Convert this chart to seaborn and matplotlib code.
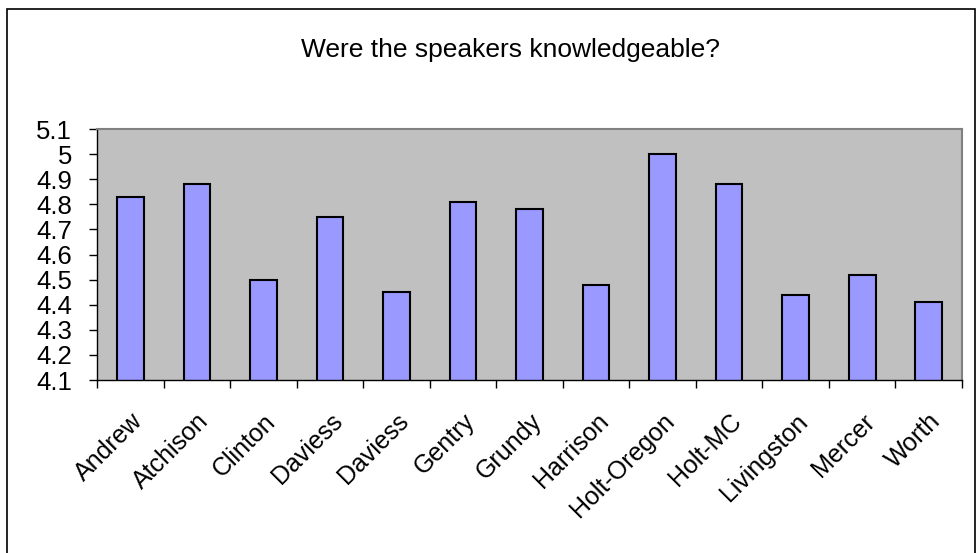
import matplotlib
matplotlib.use("Agg")
import matplotlib.pyplot as plt
import numpy as np
import pandas as pd
import seaborn as sns
from matplotlib.patches import Rectangle

counties = ["Andrew", "Atchison", "Clinton", "Daviess", "Daviess ", "Gentry", "Grundy",
            "Harrison", "Holt-Oregon", "Holt-MC", "Livingston", "Mercer", "Worth"]
tick_labels = ["Andrew", "Atchison", "Clinton", "Daviess", "Daviess", "Gentry", "Grundy",
               "Harrison", "Holt-Oregon", "Holt-MC", "Livingston", "Mercer", "Worth"]
scores = [4.83, 4.88, 4.50, 4.75, 4.45, 4.81, 4.78, 4.48, 5.00, 4.88, 4.44, 4.52, 4.41]

data = pd.DataFrame({"County": counties, "Score": scores})

sns.set_style("white")
plt.rcParams["font.family"] = ["Liberation Sans", "DejaVu Sans"]
plt.rcParams["text.color"] = "black"
plt.rcParams["xtick.color"] = "black"
plt.rcParams["ytick.color"] = "black"

fig = plt.figure(figsize=(9.78, 5.53), dpi=100)
ax = fig.add_axes([97 / 978, 1 - 380 / 553, 865 / 978, 251 / 553])
ax.set_facecolor("#C0C0C0")

sns.barplot(x="County", y="Score", data=data, ax=ax, color="#9999FF",
            edgecolor="black", linewidth=1.5, width=0.4, saturation=1)

ax.set_ylim(4.1, 5.1)
ax.set_xlim(-0.5, len(counties) - 0.5)
ax.set_yticks(np.arange(4.1, 5.11, 0.1))
ax.set_yticklabels(["4.1", "4.2", "4.3", "4.4", "4.5", "4.6", "4.7", "4.8", "4.9", "5", "5.1"],
                   fontsize=18.5)
ax.set_xticks(range(len(counties)))
ax.set_xticklabels(tick_labels, rotation=45, ha="right", rotation_mode="anchor", fontsize=18)
ax.set_xticks(np.arange(-0.5, len(counties), 1), minor=True)
ax.tick_params(axis="x", which="major", bottom=True, length=0, pad=21)
ax.tick_params(axis="x", which="minor", bottom=True, length=6, width=1, direction="out")
ax.tick_params(axis="y", left=True, length=6, width=1, direction="out", pad=12)
ax.set_xlabel("")
ax.set_ylabel("")

for side in ["left", "bottom"]:
    ax.spines[side].set_color("black")
    ax.spines[side].set_linewidth(1)
for side in ["top", "right"]:
    ax.spines[side].set_color("#808080")
    ax.spines[side].set_linewidth(1.5)

fig.text(0.522, 1 - 50 / 553, "Were the speakers knowledgeable?", ha="center", va="center",
         fontsize=19)

fig.patches.append(Rectangle((7 / 978, -0.05), 968 / 978, 1.05 - 9 / 553,
                             transform=fig.transFigure, fill=False, edgecolor="black",
                             linewidth=1.2))

plt.savefig("out.png", dpi=100)
